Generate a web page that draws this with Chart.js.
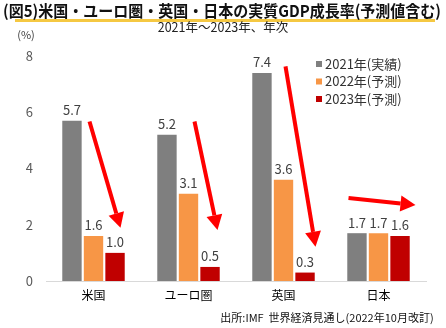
<!DOCTYPE html>
<html lang="ja">
<head>
<meta charset="utf-8">
<script src="https://cdn.jsdelivr.net/npm/chart.js@4.4.0/dist/chart.umd.min.js"></script>
<style>
  html, body { margin: 0; padding: 0; background: #fff; }
  #wrap { width: 446px; height: 328px; }
</style>
</head>
<body>
<div id="wrap"><canvas id="gdpChart" width="446" height="328"></canvas></div>
<script>
const regions = ["米国", "ユーロ圏", "英国", "日本"];
const seriesLabels = ["2021年(実績)", "2022年(予測)", "2023年(予測)"];
const growth2021 = [5.7, 5.2, 7.4, 1.7];
const growth2022 = [1.6, 3.1, 3.6, 1.7];
const growth2023 = [1.0, 0.5, 0.3, 1.6];
const yTicks = [0, 2, 4, 6, 8];

const seriesColors = ["#7f7f7f", "#f79646", "#c00000"];
const FONT = "'Noto Sans CJK JP', 'Noto Sans', sans-serif";

// trend arrows: x = px offset from the category centre, y = value on the % axis
const trendArrows = [
  { cat: 0, from: [-4, 5.67], to: [27, 1.89] },
  { cat: 1, from: [6, 5.67], to: [29, 1.81] },
  { cat: 2, from: [2, 7.63], to: [32, 1.22] },
  { cat: 3, from: [-30, 2.95], to: [37, 2.70] }
];

function drawArrow(ctx, x1, y1, x2, y2) {
  const ang = Math.atan2(y2 - y1, x2 - x1);
  const headLen = 15, headHalf = 8;
  const bx = x2 - headLen * Math.cos(ang);
  const by = y2 - headLen * Math.sin(ang);
  ctx.strokeStyle = "#ff0000";
  ctx.fillStyle = "#ff0000";
  ctx.lineWidth = 4;
  ctx.beginPath();
  ctx.moveTo(x1, y1);
  ctx.lineTo(bx, by);
  ctx.stroke();
  ctx.beginPath();
  ctx.moveTo(x2, y2);
  ctx.lineTo(bx + headHalf * Math.sin(ang), by - headHalf * Math.cos(ang));
  ctx.lineTo(bx - headHalf * Math.sin(ang), by + headHalf * Math.cos(ang));
  ctx.closePath();
  ctx.fill();
}

// draws text centred on (x, y), squeezed horizontally if wider than maxW
function fitText(ctx, text, x, y, maxW) {
  const w = ctx.measureText(text).width;
  const sx = Math.min(1, maxW / w);
  ctx.save();
  ctx.translate(x, y);
  ctx.scale(sx, 1);
  ctx.fillText(text, 0, 0);
  ctx.restore();
}

const decorations = {
  id: "decorations",
  afterDatasetsDraw(chart) {
    const { ctx, scales } = chart;
    ctx.save();
    // value labels above each bar
    ctx.font = "13px " + FONT;
    ctx.fillStyle = "#404040";
    ctx.textAlign = "center";
    ctx.textBaseline = "bottom";
    chart.data.datasets.forEach((ds, i) => {
      chart.getDatasetMeta(i).data.forEach((bar, j) => {
        ctx.fillText(ds.data[j].toFixed(1), bar.x, bar.y - 4);
      });
    });
    // red trend arrows
    trendArrows.forEach(a => {
      const cx = scales.x.getPixelForValue(a.cat);
      drawArrow(ctx,
        cx + a.from[0], scales.y.getPixelForValue(a.from[1]),
        cx + a.to[0], scales.y.getPixelForValue(a.to[1]));
    });
    ctx.restore();
  },
  afterDraw(chart) {
    const { ctx } = chart;
    ctx.save();
    // title with yellow underline
    ctx.fillStyle = "#f5c842";
    ctx.fillRect(15, 19, 420, 3);
    ctx.fillStyle = "#111";
    ctx.font = "bold 16px " + FONT;
    ctx.textAlign = "center";
    ctx.textBaseline = "middle";
    fitText(ctx, "(図5)米国・ユーロ圏・英国・日本の実質GDP成長率(予測値含む)", 222, 10.5, 438);

    ctx.font = "12.5px " + FONT;
    ctx.fillStyle = "#222";
    fitText(ctx, "2021年～2023年、年次", 223, 27, 134);

    ctx.font = "11px " + FONT;
    ctx.fillStyle = "#404040";
    ctx.fillText("(%)", 26, 35);

    // legend
    ctx.textAlign = "left";
    ctx.font = "13px " + FONT;
    seriesLabels.forEach((lab, i) => {
      const y = 64 + i * 17.5;
      ctx.fillStyle = seriesColors[i];
      ctx.fillRect(316, y - 3, 6, 6);
      ctx.fillStyle = "#333";
      ctx.fillText(lab, 325, y);
    });

    // source note
    ctx.font = "11px " + FONT;
    ctx.fillStyle = "#111";
    ctx.textAlign = "center";
    fitText(ctx, "出所:IMF  世界経済見通し(2022年10月改訂)", 327, 318, 226);
    ctx.restore();
  }
};

new Chart(document.getElementById("gdpChart"), {
  type: "bar",
  data: {
    labels: regions,
    datasets: [growth2021, growth2022, growth2023].map((d, i) => ({
      label: seriesLabels[i],
      data: d,
      backgroundColor: seriesColors[i],
      categoryPercentage: 0.68,
      barPercentage: 0.9
    }))
  },
  options: {
    responsive: false,
    animation: false,
    devicePixelRatio: 1,
    layout: { padding: { top: 56, right: 20, left: 0, bottom: 0 } },
    plugins: { legend: { display: false }, tooltip: { enabled: false }, title: { display: false } },
    scales: {
      x: {
        grid: { display: false, drawTicks: false },
        border: { color: "#d9d9d9", width: 1 },
        ticks: { color: "#000", font: { size: 12, family: FONT }, padding: 7 },
        afterFit(scale) { scale.height = 47; }
      },
      y: {
        min: 0,
        max: 8,
        afterBuildTicks(scale) { scale.ticks = yTicks.map(v => ({ value: v })); },
        grid: { display: false, drawTicks: false },
        border: { display: false },
        ticks: { color: "#595959", font: { size: 13, family: FONT }, padding: 13 },
        afterFit(scale) { scale.width = 46; }
      }
    }
  },
  plugins: [decorations]
});
</script>
</body>
</html>
